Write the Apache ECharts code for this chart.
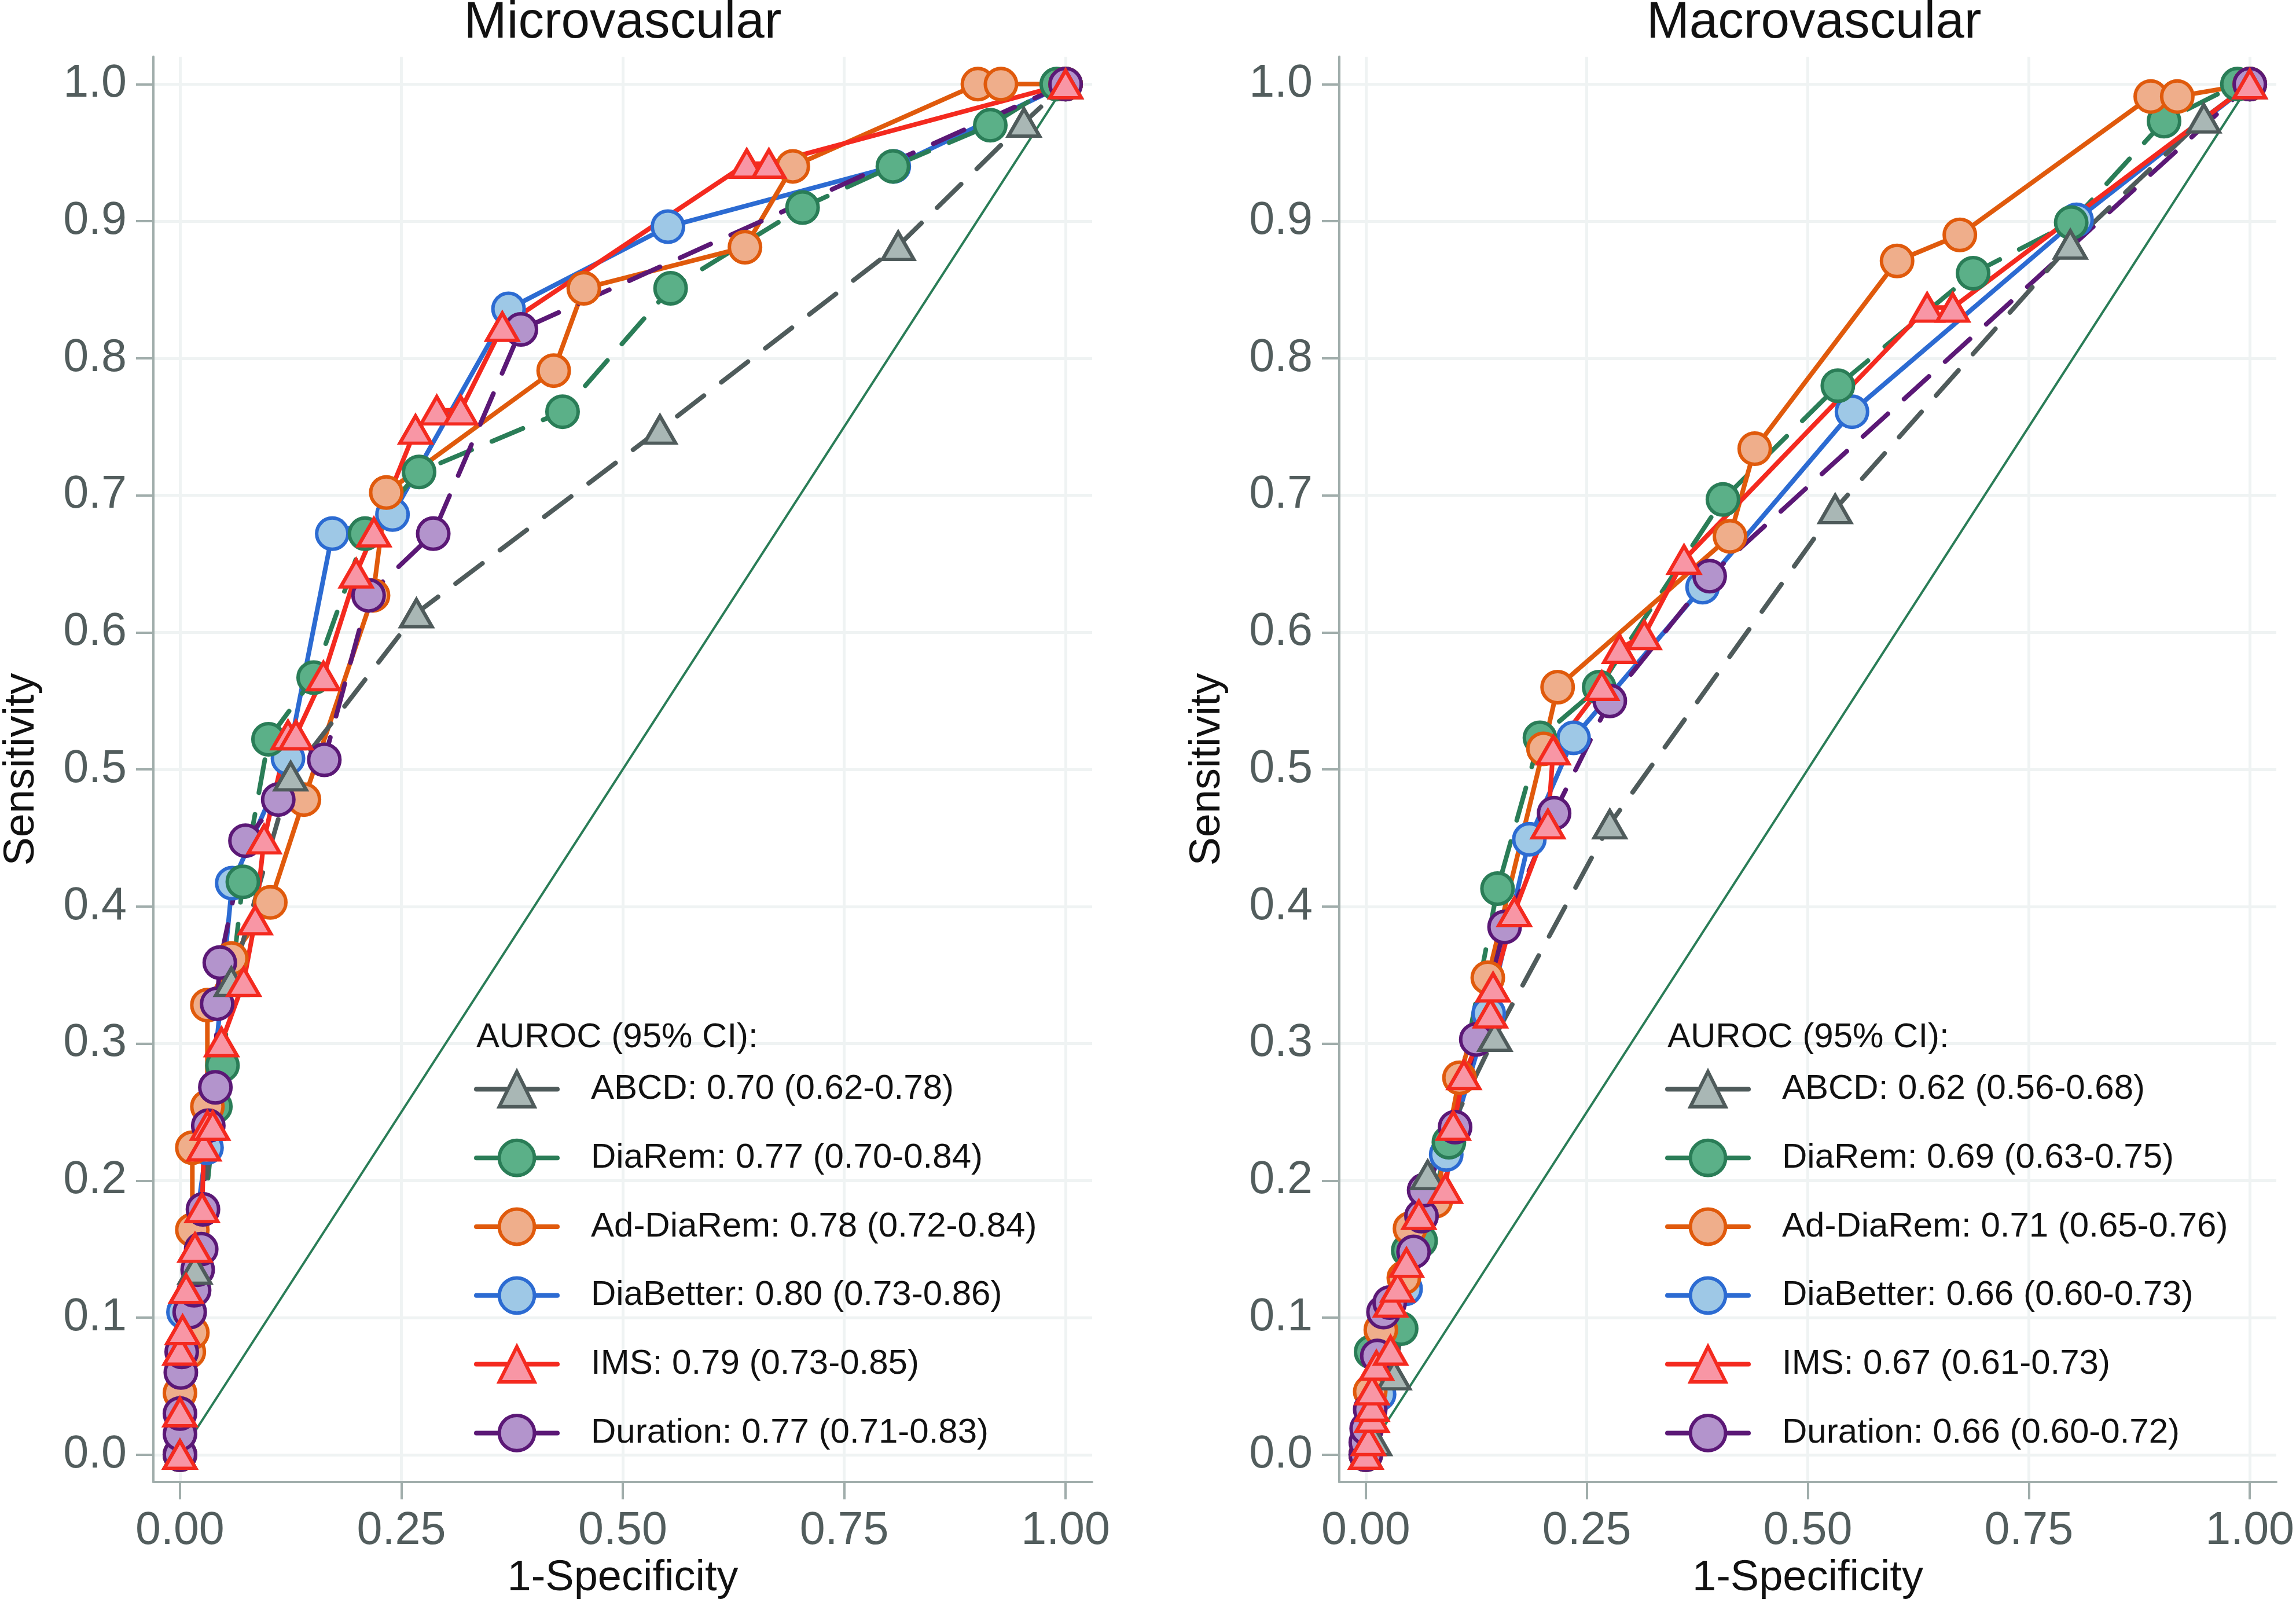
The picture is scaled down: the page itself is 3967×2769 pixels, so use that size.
<!DOCTYPE html>
<html>
<head>
<meta charset="utf-8">
<script src="https://cdn.jsdelivr.net/npm/echarts@6/dist/echarts.min.js"></script>
<style>
html,body{margin:0;padding:0;background:#fff;}
#chart{width:3967px;height:2769px;}
</style>
</head>
<body>
<div id="chart"></div>
<script>
// ---------- DATA ----------
const panelTitles = ['Microvascular', 'Macrovascular'];
const xTicks = [0, 0.25, 0.5, 0.75, 1];
const yTicks = [0, 0.1, 0.2, 0.3, 0.4, 0.5, 0.6, 0.7, 0.8, 0.9, 1.0];
const diagonal = [[0, 0], [1, 1]];
const seriesKeys = ['ABCD', 'DiaRem', 'AdDiaRem', 'DiaBetter', 'IMS', 'Duration'];

const microLabels = ['ABCD: 0.70 (0.62-0.78)', 'DiaRem: 0.77 (0.70-0.84)', 'Ad-DiaRem: 0.78 (0.72-0.84)',
  'DiaBetter: 0.80 (0.73-0.86)', 'IMS: 0.79 (0.73-0.85)', 'Duration: 0.77 (0.71-0.83)'];
const macroLabels = ['ABCD: 0.62 (0.56-0.68)', 'DiaRem: 0.69 (0.63-0.75)', 'Ad-DiaRem: 0.71 (0.65-0.76)',
  'DiaBetter: 0.66 (0.60-0.73)', 'IMS: 0.67 (0.61-0.73)', 'Duration: 0.66 (0.60-0.72)'];

const microABCD = [[0,0],[0.017,0.135],[0.058,0.345],[0.125,0.495],[0.267,0.614],[0.542,0.748],[0.811,0.882],[0.953,0.972],[1,1]];
const microDiaRem = [[0,0],[0.040,0.254],[0.048,0.284],[0.071,0.418],[0.100,0.522],[0.151,0.567],[0.209,0.672],[0.270,0.717],[0.432,0.761],[0.554,0.851],[0.703,0.910],[0.805,0.940],[0.915,0.970],[0.990,1.0],[1,1]];
const microAdDiaRem = [[0,0],[0,0.045],[0.010,0.075],[0.014,0.089],[0.014,0.164],[0.014,0.224],[0.031,0.254],[0.031,0.328],[0.058,0.362],[0.102,0.403],[0.140,0.478],[0.218,0.627],[0.233,0.702],[0.422,0.791],[0.456,0.851],[0.638,0.881],[0.692,0.940],[0.901,1.0],[0.927,1.0],[1,1]];
const microDiaBetter = [[0,0],[0.004,0.104],[0.030,0.224],[0.059,0.417],[0.122,0.508],[0.172,0.672],[0.240,0.686],[0.371,0.836],[0.551,0.896],[0.806,0.940],[1,1]];
const microIMS = [[0,0],[0,0.031],[0,0.076],[0.003,0.091],[0.007,0.121],[0.017,0.151],[0.025,0.180],[0.027,0.225],[0.031,0.240],[0.037,0.240],[0.047,0.301],[0.072,0.345],[0.085,0.390],[0.095,0.449],[0.122,0.525],[0.131,0.525],[0.162,0.568],[0.199,0.643],[0.219,0.673],[0.266,0.748],[0.290,0.762],[0.317,0.762],[0.364,0.823],[0.640,0.942],[0.665,0.942],[1,1]];
const microDuration = [[0,0],[0,0.015],[0,0.030],[0.001,0.060],[0.002,0.075],[0.011,0.104],[0.016,0.120],[0.020,0.135],[0.024,0.150],[0.026,0.179],[0.032,0.240],[0.040,0.268],[0.042,0.329],[0.045,0.359],[0.074,0.448],[0.111,0.478],[0.163,0.507],[0.213,0.627],[0.286,0.672],[0.385,0.821],[1,1]];

const macroABCD = [[0,0],[0.010,0.010],[0.032,0.058],[0.070,0.204],[0.146,0.305],[0.276,0.460],[0.531,0.690],[0.797,0.883],[0.948,0.975],[1,1]];
const macroDiaRem = [[0,0],[0.006,0.075],[0.040,0.092],[0.048,0.149],[0.062,0.156],[0.094,0.228],[0.149,0.413],[0.197,0.523],[0.264,0.560],[0.404,0.697],[0.534,0.780],[0.687,0.862],[0.798,0.899],[0.903,0.973],[0.986,1.0],[1,1]];
const macroAdDiaRem = [[0,0],[0.005,0.046],[0.017,0.091],[0.043,0.129],[0.050,0.165],[0.079,0.185],[0.106,0.275],[0.138,0.348],[0.201,0.515],[0.217,0.560],[0.412,0.670],[0.440,0.734],[0.601,0.871],[0.672,0.890],[0.888,0.991],[0.918,0.991],[1,1]];
const macroDiaBetter = [[0,0],[0.015,0.044],[0.045,0.121],[0.091,0.219],[0.139,0.322],[0.185,0.449],[0.235,0.523],[0.381,0.633],[0.550,0.761],[0.804,0.901],[1,1]];
const macroIMS = [[0,0],[0.003,0.010],[0.007,0.027],[0.007,0.035],[0.007,0.047],[0.012,0.065],[0.028,0.076],[0.028,0.111],[0.036,0.122],[0.046,0.140],[0.060,0.175],[0.090,0.194],[0.099,0.240],[0.111,0.277],[0.141,0.322],[0.144,0.341],[0.168,0.396],[0.206,0.460],[0.212,0.514],[0.267,0.561],[0.287,0.588],[0.315,0.598],[0.360,0.653],[0.635,0.837],[0.664,0.837],[1,1]];
const macroDuration = [[0,0],[0,0.009],[0.001,0.019],[0.005,0.033],[0.013,0.072],[0.020,0.104],[0.027,0.111],[0.054,0.148],[0.063,0.174],[0.066,0.193],[0.101,0.239],[0.125,0.303],[0.157,0.385],[0.213,0.468],[0.276,0.550],[0.389,0.641],[1,1]];

// ---------- STYLE ----------
const FONT = '"Liberation Sans", Arial, Helvetica, sans-serif';
const styles = {
  ABCD:      {line: '#4f5b5b', fill: '#a9b7b5', symbol: 'triangle', dash: true},
  DiaRem:    {line: '#2a7d57', fill: '#5bb088', symbol: 'circle', dash: true},
  AdDiaRem:  {line: '#e05a0c', fill: '#efae8b', symbol: 'circle', dash: false},
  DiaBetter: {line: '#2c6bd2', fill: '#9ec8e6', symbol: 'circle', dash: false},
  IMS:       {line: '#f42a1f', fill: '#f896a5', symbol: 'triangle', dash: false},
  Duration:  {line: '#5b1876', fill: '#b394cc', symbol: 'circle', dash: true}
};
const drawOrder = ['DiaBetter', 'DiaRem', 'AdDiaRem', 'Duration', 'ABCD', 'IMS'];
const panelData = [
  {ABCD: microABCD, DiaRem: microDiaRem, AdDiaRem: microAdDiaRem, DiaBetter: microDiaBetter, IMS: microIMS, Duration: microDuration},
  {ABCD: macroABCD, DiaRem: macroDiaRem, AdDiaRem: macroAdDiaRem, DiaBetter: macroDiaBetter, IMS: macroIMS, Duration: macroDuration}
];
const panelLabels = [microLabels, macroLabels];

const gridLeft = [256, 2314];
const GRID_TOP = 98, GRID_W = 1631, GRID_H = 2469;
const AXIS_COLOR = '#a0adab', GRID_COLOR = '#eff3f3', TICK_TEXT = '#525d5d';
const LINE_W = 8, BORDER_W = 6;

const grids = [], xAxes = [], yAxes = [], series = [], titles = [], legends = [];
for (let p = 0; p < 2; p++) {
  grids.push({left: gridLeft[p], top: GRID_TOP, width: GRID_W, height: GRID_H, containLabel: false});
  xAxes.push({
    type: 'value', gridIndex: p, min: -0.03, max: 1.03,
    name: '1-Specificity', nameLocation: 'middle', nameGap: 121,
    nameTextStyle: {fontFamily: FONT, fontSize: 74, color: '#111'},
    axisLine: {show: true, onZero: false, lineStyle: {color: AXIS_COLOR, width: 4}},
    axisTick: {show: true, length: 30, customValues: xTicks, lineStyle: {color: AXIS_COLOR, width: 4}},
    axisLabel: {customValues: xTicks, margin: 46, fontFamily: FONT, fontSize: 79, color: TICK_TEXT,
      formatter: v => v.toFixed(2)},
    splitLine: {show: true, lineStyle: {color: GRID_COLOR, width: 5}}
  });
  yAxes.push({
    type: 'value', gridIndex: p, min: -0.02, max: 1.02,
    name: 'Sensitivity', nameLocation: 'middle', nameGap: 190,
    nameTextStyle: {fontFamily: FONT, fontSize: 74, color: '#111'},
    axisLine: {show: true, onZero: false, lineStyle: {color: AXIS_COLOR, width: 4}},
    axisTick: {show: true, length: 30, customValues: yTicks, lineStyle: {color: AXIS_COLOR, width: 4}},
    axisLabel: {customValues: yTicks, margin: 46, fontFamily: FONT, fontSize: 79, color: TICK_TEXT,
      formatter: v => v.toFixed(1)},
    splitLine: {show: true, lineStyle: {color: GRID_COLOR, width: 5}}
  });
  titles.push({
    text: panelTitles[p], left: gridLeft[p] + 46 + 769, top: -9, textAlign: 'center',
    textStyle: {fontFamily: FONT, fontSize: 89, fontWeight: 'normal', color: '#111'}
  });
  titles.push({
    text: 'AUROC (95% CI):', left: gridLeft[p] + 562, top: 1757,
    textStyle: {fontFamily: FONT, fontSize: 60, fontWeight: 'normal', color: '#111'}
  });
  const names = [];
  for (const key of drawOrder) {
    const st = styles[key];
    const label = panelLabels[p][seriesKeys.indexOf(key)];
    series.push({
      type: 'line', name: label, xAxisIndex: p, yAxisIndex: p,
      data: panelData[p][key],
      symbol: st.symbol,
      symbolSize: st.symbol === 'triangle' ? [54, 47] : 54,
      showAllSymbol: true,
      clip: false,
      lineStyle: {color: st.line, width: LINE_W, type: st.dash ? [58, 38] : 'solid', cap: 'round', join: 'round'},
      itemStyle: {color: st.fill, borderColor: st.line, borderWidth: BORDER_W},
      emphasis: {disabled: true},
      silent: true
    });
  }
  for (const key of seriesKeys) names.push(panelLabels[p][seriesKeys.indexOf(key)]);
  legends.push({
    data: names, orient: 'vertical', left: gridLeft[p] + 558, top: 1843,
    itemWidth: 140, itemHeight: 76, itemGap: 52, selectedMode: false,
    lineStyle: {type: 'solid', width: LINE_W},
    itemStyle: {borderWidth: BORDER_W},
    textStyle: {fontFamily: FONT, fontSize: 60, color: '#111', padding: [0, 0, 0, 53]}
  });
  series.push({
    type: 'line', name: 'ref' + p, xAxisIndex: p, yAxisIndex: p, data: diagonal,
    symbol: 'none', lineStyle: {color: '#2a7d57', width: 4}, silent: true, emphasis: {disabled: true}
  });
}

const chart = echarts.init(document.getElementById('chart'), null, {renderer: 'canvas'});
chart.setOption({
  animation: false,
  backgroundColor: '#ffffff',
  title: titles,
  legend: legends,
  grid: grids,
  xAxis: xAxes,
  yAxis: yAxes,
  series: series
});
</script>
</body>
</html>
